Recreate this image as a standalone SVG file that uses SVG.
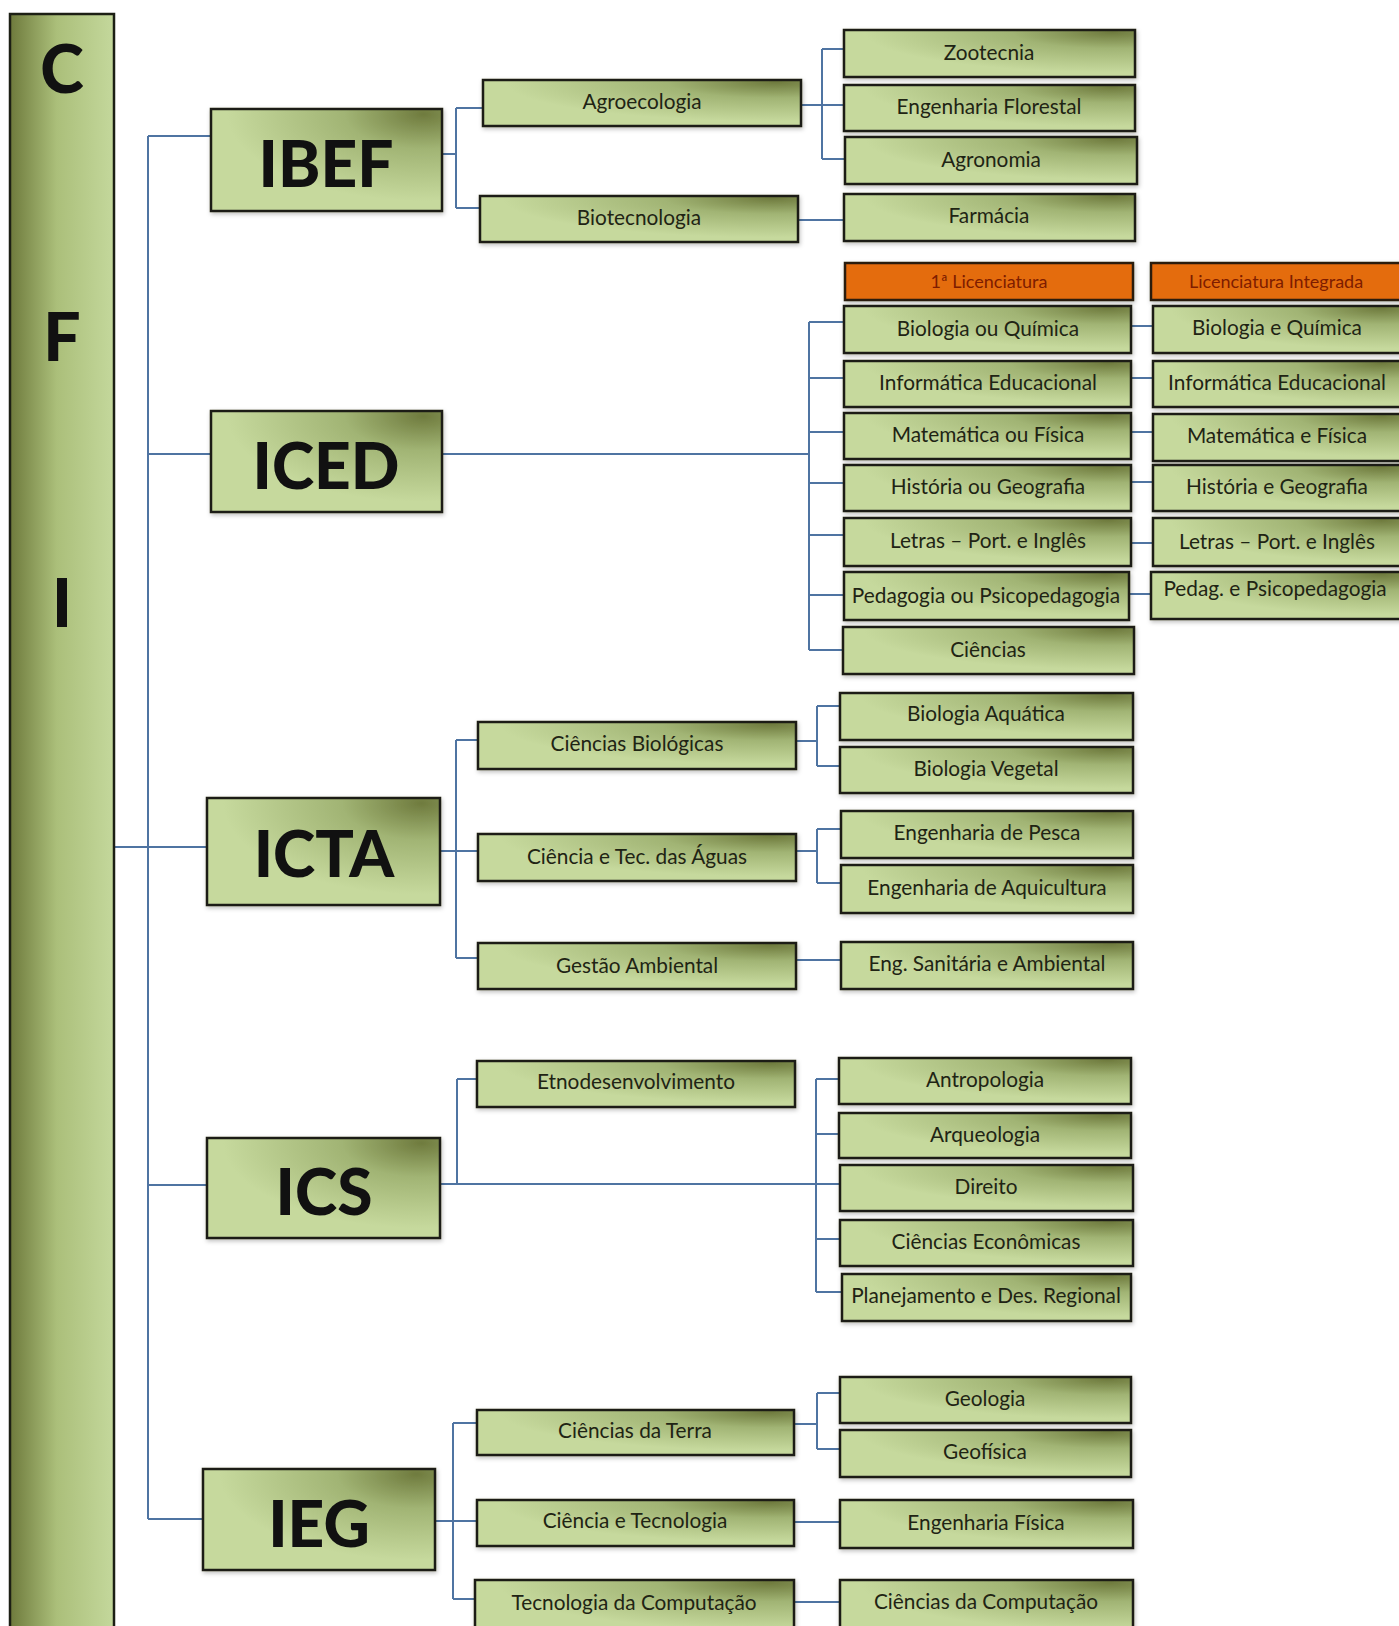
<svg xmlns="http://www.w3.org/2000/svg" width="1399" height="1626" viewBox="0 0 1399 1626">
<defs>
<radialGradient id="gBox" cx="0.92" cy="0.05" r="0.85" fx="0.92" fy="0.05">
<stop offset="0" stop-color="#6f7b3e"/>
<stop offset="0.4" stop-color="#a1b474"/>
<stop offset="1" stop-color="#c6d99d"/>
</radialGradient>
<linearGradient id="gBar" x1="0" y1="0" x2="1" y2="0">
<stop offset="0" stop-color="#6e7a3c"/>
<stop offset="0.45" stop-color="#abbf7a"/>
<stop offset="1" stop-color="#c4d89c"/>
</linearGradient>
<filter id="sh" x="-10%" y="-20%" width="120%" height="150%">
<feDropShadow dx="1" dy="2" stdDeviation="2" flood-color="#000" flood-opacity="0.25"/>
</filter>
<style>
.b{fill:url(#gBox);stroke:#1c1f14;stroke-width:2.5;filter:url(#sh)}
.h{fill:#e46c0a;stroke:#2a1a10;stroke-width:2.5;filter:url(#sh)}
.t{font-family:Lato,"Liberation Sans",sans-serif;font-size:20.8px;fill:#1f2414;text-anchor:middle}
.ht{font-family:Lato,"Liberation Sans",sans-serif;font-size:18px;fill:#7e1c00;text-anchor:middle}
.big{font-family:Lato,"Open Sans","Liberation Sans",sans-serif;font-weight:900;font-size:64px;fill:#111;text-anchor:middle}
.bar{font-family:Lato,"Open Sans","Liberation Sans",sans-serif;font-weight:900;font-size:66px;fill:#111;text-anchor:middle}
.c{fill:none;stroke:#4f74a2;stroke-width:2}
</style>
</defs>
<rect width="1399" height="1626" fill="#fff"/>

<g id="connectors" class="c">
<path d="M114,847H207M148,136V1519M148,136H211M148,454H211M148,1185H207M148,1519H203"/>
<path d="M442,154H456M456,108V208M456,108H483M456,208H480"/>
<path d="M801,105H822M822,49V159M822,49H844M822,105H844M822,159H845"/>
<path d="M798,220H844"/>
<path d="M442,454H809M809,322V650M809,322H844M809,378H844M809,432H844M809,483H844M809,535H844M809,595H844M809,650H843"/>
<path d="M1131,326H1153M1131,378H1153M1131,432H1153M1131,482H1153M1131,543H1153M1129,594H1151"/>
<path d="M440,851H456M456,740V958M456,740H478M456,851H478M456,958H478"/>
<path d="M796,741H817M817,706V766M817,706H840M817,766H840"/>
<path d="M796,851H817M817,829V883M817,829H841M817,883H841"/>
<path d="M796,960H841"/>
<path d="M440,1184H840M457,1079V1184M457,1079H477M816,1079V1292M816,1079H839M816,1134H839M816,1239H840M816,1292H842"/>
<path d="M435,1521H453M453,1423V1599M453,1423H477M453,1521H477M453,1599H475"/>
<path d="M794,1424H817M817,1393V1449M817,1393H840M817,1449H840"/>
<path d="M794,1522H840M794,1602H840"/>
</g>

<g id="cfi">
<rect x="10" y="14" width="104" height="1630" fill="url(#gBar)" stroke="#1c1f14" stroke-width="2.5"/>
<text class="bar" x="62" y="93">C</text>
<text class="bar" x="62" y="361">F</text>
<text class="bar" x="62" y="627">I</text>
</g>

<g id="ibef"><rect class="b" x="211" y="109" width="231" height="102"/><text class="big" x="326" y="187">IBEF</text></g>
<g id="iced"><rect class="b" x="211" y="411" width="231" height="101"/><text class="big" x="326" y="489">ICED</text></g>
<g id="icta"><rect class="b" x="207" y="798" width="233" height="107"/><text class="big" x="324" y="877">ICTA</text></g>
<g id="ics"><rect class="b" x="207" y="1138" width="233" height="100"/><text class="big" x="324" y="1215">ICS</text></g>
<g id="ieg"><rect class="b" x="203" y="1469" width="232" height="101"/><text class="big" x="319" y="1547">IEG</text></g>

<g id="agroecologia"><rect class="b" x="483" y="80" width="318" height="46"/><text class="t" x="642" y="109">Agroecologia</text></g>
<g id="biotecnologia"><rect class="b" x="480" y="196" width="318" height="46"/><text class="t" x="639" y="225">Biotecnologia</text></g>
<g id="zootecnia"><rect class="b" x="844" y="30" width="291" height="47"/><text class="t" x="989" y="60">Zootecnia</text></g>
<g id="engflorestal"><rect class="b" x="844" y="85" width="291" height="46"/><text class="t" x="989" y="114">Engenharia Florestal</text></g>
<g id="agronomia"><rect class="b" x="845" y="137" width="292" height="47"/><text class="t" x="991" y="167">Agronomia</text></g>
<g id="farmacia"><rect class="b" x="844" y="194" width="291" height="47"/><text class="t" x="989" y="223">Farmácia</text></g>

<g id="h-lic1"><rect class="h" x="845" y="263" width="288" height="37"/><text class="ht" x="989" y="288">1ª Licenciatura</text></g>
<g id="h-licint"><rect class="h" x="1151" y="263" width="250" height="37"/><text class="ht" x="1276" y="288">Licenciatura Integrada</text></g>

<g id="bioquim1"><rect class="b" x="844" y="306" width="287" height="47"/><text class="t" x="988" y="336">Biologia ou Química</text></g>
<g id="infoedu1"><rect class="b" x="844" y="361" width="287" height="46"/><text class="t" x="988" y="390">Informática Educacional</text></g>
<g id="matfis1"><rect class="b" x="844" y="413" width="287" height="46"/><text class="t" x="988" y="442">Matemática ou Física</text></g>
<g id="histgeo1"><rect class="b" x="844" y="465" width="287" height="46"/><text class="t" x="988" y="494">História ou Geografia</text></g>
<g id="letras1"><rect class="b" x="844" y="518" width="287" height="48"/><text class="t" x="988" y="548">Letras – Port. e Inglês</text></g>
<g id="pedag1"><rect class="b" x="844" y="572" width="285" height="48"/><text class="t" x="986" y="603">Pedagogia ou Psicopedagogia</text></g>
<g id="ciencias"><rect class="b" x="843" y="627" width="291" height="47"/><text class="t" x="988" y="657">Ciências</text></g>

<g id="bioquim2"><rect class="b" x="1153" y="306" width="248" height="47"/><text class="t" x="1277" y="335">Biologia e Química</text></g>
<g id="infoedu2"><rect class="b" x="1153" y="361" width="248" height="46"/><text class="t" x="1277" y="390">Informática Educacional</text></g>
<g id="matfis2"><rect class="b" x="1153" y="414" width="248" height="47"/><text class="t" x="1277" y="443">Matemática e Física</text></g>
<g id="histgeo2"><rect class="b" x="1153" y="465" width="248" height="46"/><text class="t" x="1277" y="494">História e Geografia</text></g>
<g id="letras2"><rect class="b" x="1153" y="518" width="248" height="48"/><text class="t" x="1277" y="549">Letras – Port. e Inglês</text></g>
<g id="pedag2"><rect class="b" x="1151" y="572" width="250" height="47"/><text class="t" x="1275" y="596">Pedag. e Psicopedagogia</text></g>

<g id="cbiologicas"><rect class="b" x="478" y="722" width="318" height="47"/><text class="t" x="637" y="751">Ciências Biológicas</text></g>
<g id="ctaguas"><rect class="b" x="478" y="834" width="318" height="47"/><text class="t" x="637" y="864">Ciência e Tec. das Águas</text></g>
<g id="gestaoamb"><rect class="b" x="478" y="943" width="318" height="46"/><text class="t" x="637" y="973">Gestão Ambiental</text></g>
<g id="bioaquatica"><rect class="b" x="840" y="693" width="293" height="47"/><text class="t" x="986" y="721">Biologia Aquática</text></g>
<g id="biovegetal"><rect class="b" x="840" y="747" width="293" height="46"/><text class="t" x="986" y="776">Biologia Vegetal</text></g>
<g id="engpesca"><rect class="b" x="841" y="811" width="292" height="47"/><text class="t" x="987" y="840">Engenharia de Pesca</text></g>
<g id="engaqui"><rect class="b" x="841" y="865" width="292" height="48"/><text class="t" x="987" y="895">Engenharia de Aquicultura</text></g>
<g id="engsanit"><rect class="b" x="841" y="942" width="292" height="47"/><text class="t" x="987" y="971">Eng. Sanitária e Ambiental</text></g>

<g id="etno"><rect class="b" x="477" y="1061" width="318" height="46"/><text class="t" x="636" y="1089">Etnodesenvolvimento</text></g>
<g id="antropologia"><rect class="b" x="839" y="1058" width="292" height="46"/><text class="t" x="985" y="1087">Antropologia</text></g>
<g id="arqueologia"><rect class="b" x="839" y="1113" width="292" height="45"/><text class="t" x="985" y="1142">Arqueologia</text></g>
<g id="direito"><rect class="b" x="840" y="1165" width="293" height="46"/><text class="t" x="986" y="1194">Direito</text></g>
<g id="cecon"><rect class="b" x="840" y="1220" width="293" height="46"/><text class="t" x="986" y="1249">Ciências Econômicas</text></g>
<g id="planej"><rect class="b" x="842" y="1274" width="289" height="47"/><text class="t" x="986" y="1303">Planejamento e Des. Regional</text></g>

<g id="cterra"><rect class="b" x="477" y="1410" width="317" height="45"/><text class="t" x="635" y="1438">Ciências da Terra</text></g>
<g id="ctec"><rect class="b" x="477" y="1500" width="317" height="46"/><text class="t" x="635" y="1528">Ciência e Tecnologia</text></g>
<g id="tcomp"><rect class="b" x="475" y="1580" width="319" height="55"/><text class="t" x="634" y="1610">Tecnologia da Computação</text></g>
<g id="geologia"><rect class="b" x="840" y="1377" width="291" height="46"/><text class="t" x="985" y="1406">Geologia</text></g>
<g id="geofisica"><rect class="b" x="840" y="1430" width="291" height="47"/><text class="t" x="985" y="1459">Geofísica</text></g>
<g id="engfisica"><rect class="b" x="840" y="1500" width="293" height="48"/><text class="t" x="986" y="1530">Engenharia Física</text></g>
<g id="ccomp"><rect class="b" x="840" y="1580" width="293" height="55"/><text class="t" x="986" y="1609">Ciências da Computação</text></g>
</svg>
